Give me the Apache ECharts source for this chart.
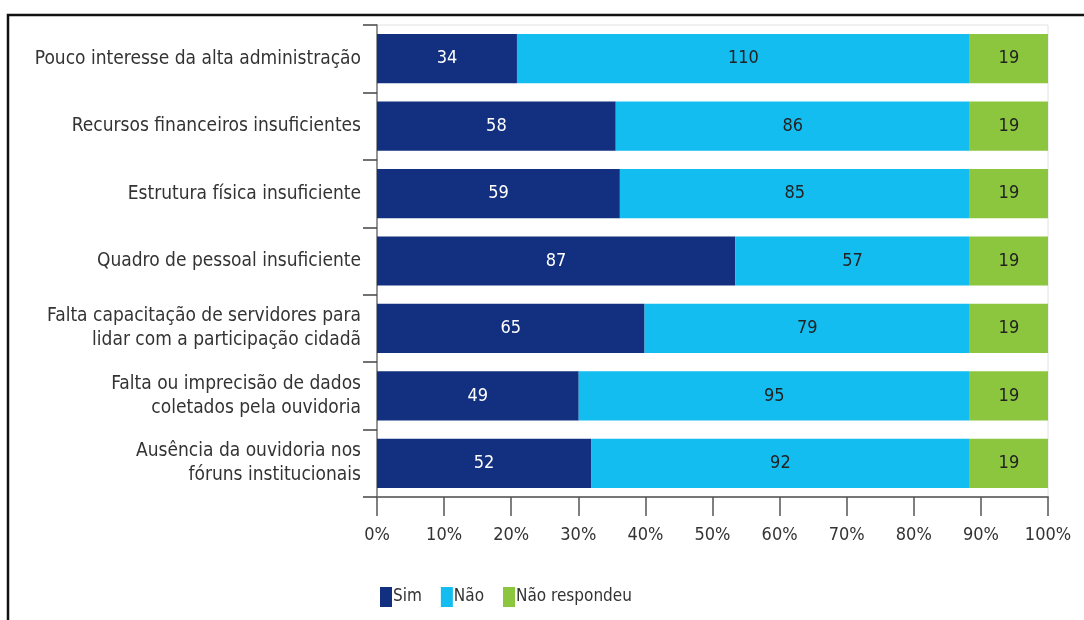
<!DOCTYPE html>
<html>
<head>
<meta charset="utf-8">
<script src="https://cdn.jsdelivr.net/npm/echarts@6/dist/echarts.min.js"></script>
<style>
  html, body { margin: 0; padding: 0; background: #fff; }
  #chart { width: 1084px; height: 620px; }
</style>
</head>
<body>
<div id="chart"></div>
<script>
  const categories = [
    'Pouco interesse da alta administração',
    'Recursos financeiros insuficientes',
    'Estrutura física insuficiente',
    'Quadro de pessoal insuficiente',
    'Falta capacitação de servidores para\nlidar com a participação cidadã',
    'Falta ou imprecisão de dados\ncoletados pela ouvidoria',
    'Ausência da ouvidoria nos\nfóruns institucionais'
  ]
  const sim = [34, 58, 59, 87, 65, 49, 52]
  const nao = [110, 86, 85, 57, 79, 95, 92]
  const naoRespondeu = [19, 19, 19, 19, 19, 19, 19]
  const seriesNames = ['Sim', 'Não', 'Não respondeu']
  const colors = ['#12307f', '#13bdf0', '#8cc63f']

  const font = '"DejaVu Sans Condensed", sans-serif'
  const totals = sim.map((v, i) => v + nao[i] + naoRespondeu[i])
  // percent of each row, label keeps the raw count
  const toPct = arr => arr.map((v, i) => ({ value: v / totals[i] * 100, raw: v }))

  const chart = echarts.init(document.getElementById('chart'))

  const makeSeries = (name, arr, idx, labelColor) => ({
    name: name,
    type: 'bar',
    stack: 'total',
    barCategoryGap: '27%',
    data: toPct(arr),
    itemStyle: { color: colors[idx] },
    label: {
      show: true,
      position: 'inside',
      color: labelColor,
      fontFamily: font,
      fontSize: 18,
      formatter: p => p.data.raw
    },
    emphasis: { disabled: true }
  })

  const option = {
    animation: false,
    graphic: [{
      type: 'rect',
      shape: { x: 8, y: 15, width: 1100, height: 640 },
      style: { fill: 'none', stroke: '#111', lineWidth: 2.5 }
    }],
    legend: {
      left: 380,
      top: 587,
      padding: 0,
      itemWidth: 12,
      itemHeight: 20,
      itemGap: 19,
      icon: 'rect',
      textStyle: { fontFamily: font, fontSize: 17, color: '#333', padding: [0, 0, 0, -4] },
      data: seriesNames
    },
    grid: {
      left: 377,
      right: 36,
      top: 25,
      bottom: 123,
      show: true,
      borderColor: '#e2e2e2',
      borderWidth: 1
    },
    xAxis: {
      type: 'value',
      min: 0,
      max: 100,
      interval: 10,
      axisLine: { show: true, lineStyle: { color: '#777', width: 2 } },
      axisTick: { show: true, length: 19, lineStyle: { color: '#555', width: 1.5 } },
      splitLine: { show: false },
      axisLabel: {
        formatter: '{value}%',
        fontFamily: font,
        fontSize: 18,
        color: '#333',
        margin: 29
      }
    },
    yAxis: {
      type: 'category',
      inverse: true,
      data: categories,
      axisLine: { show: true, lineStyle: { color: '#777', width: 1.5 } },
      axisTick: { show: true, length: 14, lineStyle: { color: '#444', width: 1.5 } },
      axisLabel: {
        fontFamily: font,
        fontSize: 19,
        color: '#333',
        margin: 16,
        lineHeight: 24,
        align: 'right'
      }
    },
    series: [
      makeSeries(seriesNames[0], sim, 0, '#ffffff'),
      makeSeries(seriesNames[1], nao, 1, '#222'),
      makeSeries(seriesNames[2], naoRespondeu, 2, '#222')
    ]
  }

  chart.setOption(option)
</script>
</body>
</html>
